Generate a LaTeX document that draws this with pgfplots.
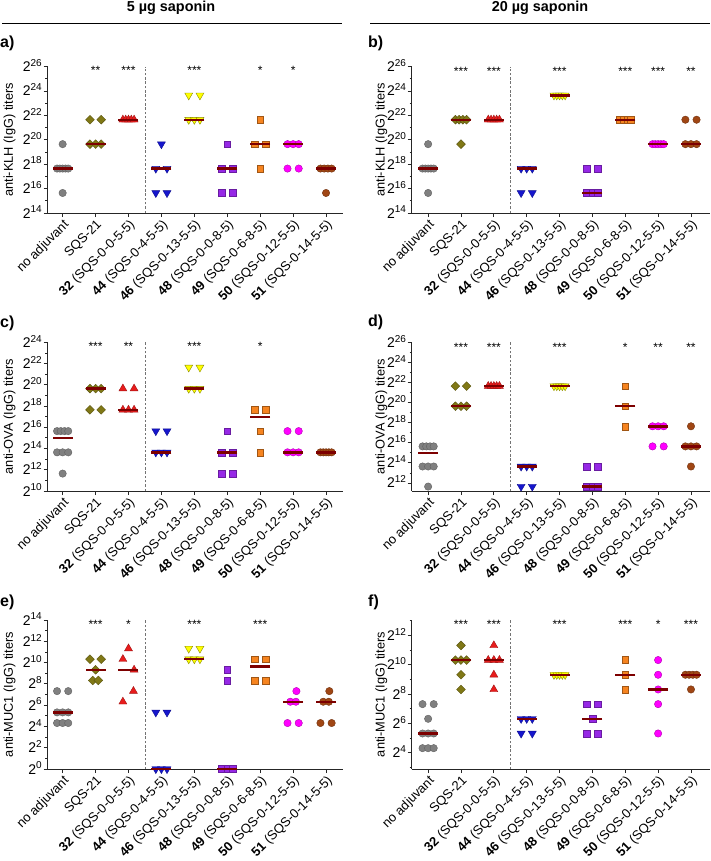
\documentclass[border=0pt]{standalone}
\usepackage{fontspec}
\setmainfont{Liberation Sans}
\usepackage{pgfplots}
\pgfplotsset{compat=1.18}
\definecolor{cgray}{RGB}{128,128,128}
\definecolor{colive}{RGB}{128,120,22}
\definecolor{cred}{RGB}{232,28,28}
\definecolor{cblue}{RGB}{22,22,205}
\definecolor{cyellow}{RGB}{255,255,0}
\definecolor{cpurple}{RGB}{150,40,230}
\definecolor{corange}{RGB}{246,132,32}
\definecolor{cmagenta}{RGB}{255,0,255}
\definecolor{cbrown}{RGB}{160,70,20}
\definecolor{cmed}{RGB}{125,0,0}
\pgfplotsset{
  P/.style={scale only axis, anchor=south west, clip=false,
    axis lines*=left, axis line style={-, draw=black!85, line width=0.9pt},
    tick align=outside, major tick length=4pt, minor tick length=2.2pt,
    every tick/.style={draw=black!85, line width=0.8pt},
    xtick={0,...,8},
    xticklabels={no adjuvant, SQS-21, \textbf{32} (SQS-0-0-5-5), \textbf{44} (SQS-0-4-5-5), \textbf{46} (SQS-0-13-5-5), \textbf{48} (SQS-0-0-8-5), \textbf{49} (SQS-0-6-8-5), \textbf{50} (SQS-0-12-5-5), \textbf{51} (SQS-0-14-5-5)},
    xticklabel style={rotate=45, anchor=north east, font=\fontsize{13}{15}\selectfont, inner sep=1pt},
    yticklabel={2\raisebox{5.2pt}{\fontsize{10}{10}\selectfont\pgfmathparse{int(\tick)}\pgfmathresult}},
    yticklabel style={font=\fontsize{14}{16}\selectfont, anchor=base east, yshift=-5pt, inner sep=1.5pt},
    ylabel style={font=\fontsize{12.8}{14}\selectfont, anchor=center},
  },
  L/.style={P, width=295pt, xmin=-0.46, xmax=8.5, ylabel style={at={(axis description cs:-0.129,0.5)}}},
  R/.style={P, width=298pt, xmin=-0.5, xmax=8.57, ylabel style={at={(axis description cs:-0.102,0.5)}}},
  mk/.style={only marks, mark options={line width=0.4pt}},
  sGray/.style={mk, mark=*, mark size=3.7pt, mark options={fill=cgray, draw=cgray!75!black}},
  sOlive/.style={mk, mark=square*, mark size=3.1pt, mark options={rotate=45, fill=colive, draw=colive!70!black}},
  sRed/.style={mk, mark=triangle*, mark size=4.6pt, mark options={fill=cred, draw=cred!70!black}},
  sBlue/.style={mk, mark=triangle*, mark size=4.6pt, mark options={rotate=180, fill=cblue, draw=cblue!70!black}},
  sYellow/.style={mk, mark=triangle*, mark size=4.6pt, mark options={rotate=180, fill=cyellow, draw=cyellow!55!black}},
  sPurple/.style={mk, mark=square*, mark size=3.4pt, mark options={fill=cpurple, draw=cpurple!70!black}},
  sOrange/.style={mk, mark=square*, mark size=3.4pt, mark options={fill=corange, draw=corange!65!black}},
  sMagenta/.style={mk, mark=*, mark size=3.7pt, mark options={fill=cmagenta, draw=cmagenta!70!black}},
  sBrown/.style={mk, mark=*, mark size=3.7pt, mark options={fill=cbrown, draw=cbrown!70!black}},
  med/.style={only marks, mark=-, mark size=10pt, mark options={draw=cmed, line width=2.4pt}},
  stars/.style={only marks, mark=none, nodes near coords, point meta=explicit symbolic,
    nodes near coords align={center},
    every node near coord/.append style={anchor=center, font=\fontsize{12}{12}\selectfont, inner sep=0pt}},
  dline/.style={no markers, draw=black!55, line width=0.6pt, dash pattern=on 2.5pt off 1.8pt},
}
\begin{document}
\begin{tikzpicture}
\path[use as bounding box] (0pt,0pt) rectangle (710pt,-861pt);
% headers
\node[font=\fontsize{14.4}{16}\selectfont\bfseries] at (171pt,-8pt) {5 µg saponin};
\node[font=\fontsize{14.4}{16}\selectfont\bfseries] at (540pt,-8pt) {20 µg saponin};
\draw[line width=0.9pt] (2pt,-23.3pt) -- (342pt,-23.3pt);
\draw[line width=0.9pt] (370pt,-23.3pt) -- (710pt,-23.3pt);
% panel letters
\node[anchor=west, inner sep=0pt, font=\fontsize{16}{18}\selectfont\bfseries] at (0pt,-43pt) {a)};
\node[anchor=west, inner sep=0pt, font=\fontsize{16}{18}\selectfont\bfseries] at (368pt,-43pt) {b)};
\node[anchor=west, inner sep=0pt, font=\fontsize{16}{18}\selectfont\bfseries] at (0pt,-323pt) {c)};
\node[anchor=west, inner sep=0pt, font=\fontsize{16}{18}\selectfont\bfseries] at (368pt,-322pt) {d)};
\node[anchor=west, inner sep=0pt, font=\fontsize{16}{18}\selectfont\bfseries] at (0pt,-602pt) {e)};
\node[anchor=west, inner sep=0pt, font=\fontsize{16}{18}\selectfont\bfseries] at (368pt,-602pt) {f)};

% ---------------- a ----------------
\begin{axis}[L, at={(47.5pt,-213pt)}, height=146.5pt, ymin=14, ymax=26, ytick={14,16,...,26}, minor ytick={15,17,...,25}, ylabel={anti-KLH (IgG) titers}]
\addplot[dline] coordinates {(2.5,14) (2.5,26)};
\addplot[sGray] coordinates {(0,19.64) (-0.17,17.64)(-0.085,17.64)(0,17.64)(0.085,17.64)(0.17,17.64) (0,15.64)};
\addplot[sOlive] coordinates {(0.83,21.64)(1.17,21.64) (0.83,19.64)(1,19.64)(1.17,19.64)};
\addplot[sRed] coordinates {(1.83,21.64)(1.915,21.64)(2,21.64)(2.085,21.64)(2.17,21.64)};
\addplot[sBlue] coordinates {(3,19.64) (2.83,17.64)(3.17,17.64) (2.83,15.64)(3.17,15.64)};
\addplot[sYellow] coordinates {(3.83,23.64)(4.17,23.64) (3.83,21.64)(4,21.64)(4.17,21.64)};
\addplot[sPurple] coordinates {(5,19.64) (4.83,17.64)(5.17,17.64) (4.83,15.64)(5.17,15.64)};
\addplot[sOrange] coordinates {(6,21.64) (5.83,19.64)(6.17,19.64) (6,17.64)};
\addplot[sMagenta] coordinates {(6.83,19.64)(7,19.64)(7.17,19.64) (6.83,17.64)(7.17,17.64)};
\addplot[sBrown] coordinates {(7.83,17.64)(7.943,17.64)(8.057,17.64)(8.17,17.64) (8,15.64)};
\addplot[med] coordinates {(0,17.64)(1,19.64)(2,21.64)(3,17.64)(4,21.64)(5,17.64)(6,19.64)(7,19.64)(8,17.64)};
\addplot[stars] coordinates {(1,25.65)[**] (2,25.65)[***] (4,25.65)[***] (6,25.65)[*] (7,25.65)[*]};
\end{axis}

% ---------------- b ----------------
\begin{axis}[R, at={(411.7pt,-213pt)}, height=146.5pt, ymin=14, ymax=26, ytick={14,16,...,26}, minor ytick={15,17,...,25}, ylabel={anti-KLH (IgG) titers}]
\addplot[dline] coordinates {(2.5,14) (2.5,26)};
\addplot[sGray] coordinates {(0,19.64) (-0.17,17.64)(-0.085,17.64)(0,17.64)(0.085,17.64)(0.17,17.64) (0,15.64)};
\addplot[sOlive] coordinates {(0.83,21.64)(0.943,21.64)(1.057,21.64)(1.17,21.64) (1,19.64)};
\addplot[sRed] coordinates {(1.83,21.64)(1.915,21.64)(2,21.64)(2.085,21.64)(2.17,21.64)};
\addplot[sBlue] coordinates {(2.83,17.64)(3,17.64)(3.17,17.64) (2.83,15.64)(3.17,15.64)};
\addplot[sYellow] coordinates {(3.83,23.64)(3.915,23.64)(4,23.64)(4.085,23.64)(4.17,23.64)};
\addplot[sPurple] coordinates {(4.83,17.64)(5.17,17.64) (4.83,15.64)(5,15.64)(5.17,15.64)};
\addplot[sOrange] coordinates {(5.83,21.64)(5.943,21.64)(6.057,21.64)(6.17,21.64)};
\addplot[sMagenta] coordinates {(6.83,19.64)(6.915,19.64)(7,19.64)(7.085,19.64)(7.17,19.64)};
\addplot[sBrown] coordinates {(7.83,21.64)(8.17,21.64) (7.83,19.64)(8,19.64)(8.17,19.64)};
\addplot[med] coordinates {(0,17.64)(1,21.64)(2,21.64)(3,17.64)(4,23.64)(5,15.64)(6,21.64)(7,19.64)(8,19.64)};
\addplot[stars] coordinates {(1,25.6)[***] (2,25.6)[***] (4,25.6)[***] (6,25.6)[***] (7,25.6)[***] (8,25.6)[**]};
\end{axis}

% ---------------- c ----------------
\begin{axis}[L, at={(47.5pt,-491pt)}, height=148.7pt, ymin=10, ymax=24, ytick={10,12,...,24}, minor ytick={11,13,...,23}, ylabel={anti-OVA (IgG) titers}]
\addplot[dline] coordinates {(2.5,10) (2.5,24)};
\addplot[sGray] coordinates {(-0.17,15.64)(-0.057,15.64)(0.057,15.64)(0.17,15.64) (-0.17,13.64)(0,13.64)(0.17,13.64) (0,11.64)};
\addplot[sOlive] coordinates {(0.83,19.64)(1,19.64)(1.17,19.64) (0.83,17.64)(1.17,17.64)};
\addplot[sRed] coordinates {(1.83,19.64)(2.17,19.64) (1.83,17.64)(2,17.64)(2.17,17.64)};
\addplot[sBlue] coordinates {(2.83,15.64)(3.17,15.64) (2.83,13.64)(3,13.64)(3.17,13.64)};
\addplot[sYellow] coordinates {(3.83,21.64)(4.17,21.64) (3.83,19.64)(4,19.64)(4.17,19.64)};
\addplot[sPurple] coordinates {(5,15.64) (4.83,13.64)(5.17,13.64) (4.83,11.64)(5.17,11.64)};
\addplot[sOrange] coordinates {(5.83,17.64)(6.17,17.64) (6,15.64) (6,13.64)};
\addplot[sMagenta] coordinates {(6.83,15.64)(7.17,15.64) (6.83,13.64)(7,13.64)(7.17,13.64)};
\addplot[sBrown] coordinates {(7.83,13.64)(7.915,13.64)(8,13.64)(8.085,13.64)(8.17,13.64)};
\addplot[med] coordinates {(0,14.97)(1,19.64)(2,17.64)(3,13.64)(4,19.64)(5,13.64)(6,16.96)(7,13.64)(8,13.64)};
\addplot[stars] coordinates {(1,23.66)[***] (2,23.66)[**] (4,23.66)[***] (6,23.66)[*]};
\end{axis}

% ---------------- d ----------------
\begin{axis}[R, at={(411.7pt,-491pt)}, height=148.7pt, ymin=11.2, ymax=26, ytick={12,14,...,26}, minor ytick={13,15,...,25}, ylabel={anti-OVA (IgG) titers}]
\addplot[dline] coordinates {(2.5,11.2) (2.5,26)};
\addplot[sGray] coordinates {(-0.17,15.64)(-0.057,15.64)(0.057,15.64)(0.17,15.64) (-0.17,13.64)(0,13.64)(0.17,13.64) (0,11.64)};
\addplot[sOlive] coordinates {(0.83,21.64)(1.17,21.64) (0.83,19.64)(1,19.64)(1.17,19.64)};
\addplot[sRed] coordinates {(1.83,21.64)(1.915,21.64)(2,21.64)(2.085,21.64)(2.17,21.64)};
\addplot[sBlue] coordinates {(2.83,13.64)(3,13.64)(3.17,13.64) (2.83,11.64)(3.17,11.64)};
\addplot[sYellow] coordinates {(3.83,21.64)(3.915,21.64)(4,21.64)(4.085,21.64)(4.17,21.64)};
\addplot[sPurple] coordinates {(4.83,13.64)(5.17,13.64) (4.83,11.64)(5,11.64)(5.17,11.64)};
\addplot[sOrange] coordinates {(6,21.64) (6,19.64) (6,17.64)};
\addplot[sMagenta] coordinates {(6.83,17.64)(7,17.64)(7.17,17.64) (6.83,15.64)(7.17,15.64)};
\addplot[sBrown] coordinates {(8,17.64) (7.83,15.64)(8,15.64)(8.17,15.64) (8,13.64)};
\addplot[med] coordinates {(0,14.97)(1,19.64)(2,21.64)(3,13.64)(4,21.64)(5,11.64)(6,19.64)(7,17.64)(8,15.64)};
\addplot[stars] coordinates {(1,25.47)[***] (2,25.47)[***] (4,25.47)[***] (6,25.47)[*] (7,25.47)[**] (8,25.47)[**]};
\end{axis}

% ---------------- e ----------------
\begin{axis}[L, at={(47.5pt,-769pt)}, height=149pt, ymin=0, ymax=14, ytick={0,2,...,14}, minor ytick={1,3,...,13}, ylabel={anti-MUC1 (IgG) titers}]
\addplot[dline] coordinates {(2.5,0) (2.5,14)};
\addplot[sGray] coordinates {(-0.17,7.32)(0.17,7.32) (-0.17,5.32)(0,5.32)(0.17,5.32) (-0.17,4.32)(0,4.32)(0.17,4.32)};
\addplot[sOlive] coordinates {(0.83,10.32)(1.17,10.32) (1,9.32) (0.915,8.32)(1.085,8.32)};
\addplot[sRed] coordinates {(2,11.32) (1.83,10.32) (2.17,9.32) (2.15,7.32) (1.83,6.32)};
\addplot[sBlue] coordinates {(2.83,5.32)(3.17,5.32) (2.83,0)(3,0)(3.17,0)};
\addplot[sYellow] coordinates {(3.83,11.32)(4.17,11.32) (3.83,10.32)(4,10.32)(4.17,10.32)};
\addplot[sPurple] coordinates {(5,9.32) (5,8.32) (4.83,0)(5,0)(5.17,0)};
\addplot[sOrange] coordinates {(5.83,10.32)(6.17,10.32) (5.83,8.32)(6.17,8.32)};
\addplot[sMagenta] coordinates {(7.1,7.32) (6.915,6.32)(7.085,6.32) (6.83,4.32)(7.17,4.32)};
\addplot[sBrown] coordinates {(8.1,7.32) (7.915,6.32)(8.085,6.32) (7.83,4.32)(8.17,4.32)};
\addplot[med] coordinates {(0,5.32)(1,9.32)(2,9.32)(3,0)(4,10.32)(5,0)(6,9.64)(7,6.32)(8,6.32)};
\addplot[stars] coordinates {(1,13.6)[***] (2,13.6)[*] (4,13.6)[***] (6,13.6)[***]};
\end{axis}

% ---------------- f ----------------
\begin{axis}[R, at={(411.7pt,-769pt)}, height=149pt, ymin=2.9, ymax=13.05, ytick={4,6,...,12}, minor ytick={3,5,...,13}, ylabel={anti-MUC1 (IgG) titers}]
\addplot[dline] coordinates {(2.5,2.9) (2.5,13.05)};
\addplot[sGray] coordinates {(-0.17,7.32)(0.17,7.32) (0,6.32) (-0.17,5.32)(0,5.32)(0.17,5.32) (-0.17,4.32)(0,4.32)(0.17,4.32)};
\addplot[sOlive] coordinates {(1,11.32) (0.83,10.32)(1,10.32)(1.17,10.32) (1,9.32) (1,8.32)};
\addplot[sRed] coordinates {(2,11.32) (1.83,10.32)(2,10.32)(2.17,10.32) (2,9.32) (2,8.32)};
\addplot[sBlue] coordinates {(2.83,6.32)(3,6.32)(3.17,6.32) (2.83,5.32)(3.17,5.32)};
\addplot[sYellow] coordinates {(3.83,9.32)(3.915,9.32)(4,9.32)(4.085,9.32)(4.17,9.32)};
\addplot[sPurple] coordinates {(4.83,7.32)(5.17,7.32) (5,6.32) (4.83,5.32)(5.17,5.32)};
\addplot[sOrange] coordinates {(6,10.32) (6,9.32) (6,8.32)};
\addplot[sMagenta] coordinates {(7,10.32) (7,9.32) (7,8.32) (7,7.32) (7,5.32)};
\addplot[sBrown] coordinates {(7.83,9.32)(7.943,9.32)(8.057,9.32)(8.17,9.32) (8,8.32)};
\addplot[med] coordinates {(0,5.32)(1,10.32)(2,10.32)(3,6.32)(4,9.32)(5,6.32)(6,9.32)(7,8.32)(8,9.32)};
\addplot[stars] coordinates {(1,12.74)[***] (2,12.74)[***] (4,12.74)[***] (6,12.74)[***] (7,12.74)[*] (8,12.74)[***]};
\end{axis}
\end{tikzpicture}
\end{document}
